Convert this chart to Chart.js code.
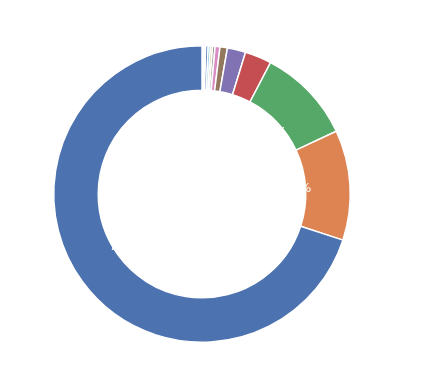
<!DOCTYPE html>
<html>
<head>
<meta charset="utf-8">
<script src="https://cdn.jsdelivr.net/npm/chart.js@4/dist/chart.umd.min.js"></script>
<style>
  html, body { margin: 0; padding: 0; background: #fff; }
  #wrap { width: 448px; height: 389px; }
</style>
</head>
<body>
<div id="wrap"><canvas id="pieChart" width="448" height="389"></canvas></div>
<script>
// slices in drawn order, clockwise from 12 o'clock
const categories = ["T8", "T7", "T6", "T5", "T4", "T3", "T2", "T1",
  "K", "J", "I", "H", "G", "F", "E", "D", "C", "B", "A"];
const shares = [0.05, 0.05, 0.05, 0.05, 0.05, 0.05, 0.05, 0.05,
  0.27, 0.24, 0.23, 0.27, 0.53, 0.81, 2.0, 2.9, 10.4, 12.0, 70.0];

const deep = ["#4C72B0", "#DD8452", "#55A868", "#C44E52", "#8172B3",
  "#937860", "#DA8BC3", "#8C8C8C", "#CCB974", "#64B5CD"];
// colour cycle runs counter-clockwise from the biggest slice
const sliceColors = shares.map((v, i) => deep[(shares.length - 1 - i) % deep.length]);

const pctLabels = {
  id: "pctLabels",
  afterDatasetsDraw(chart) {
    const ctx = chart.ctx;
    const meta = chart.getDatasetMeta(0);
    const total = shares.reduce((a, b) => a + b, 0);
    ctx.save();
    ctx.fillStyle = "#ffffff";
    ctx.font = "13px 'DejaVu Sans'";
    ctx.textAlign = "center";
    ctx.textBaseline = "middle";
    meta.data.forEach((arc, i) => {
      const mid = (arc.startAngle + arc.endAngle) / 2;
      const r = arc.outerRadius * 0.6;
      const x = arc.x + Math.cos(mid) * r;
      const y = arc.y + Math.sin(mid) * r;
      ctx.fillText((shares[i] / total * 100).toFixed(1) + "%", x, y);
    });
    ctx.restore();
  },
};

const ctx = document.getElementById("pieChart").getContext("2d");
const pieChart = new Chart(ctx, {
  type: "doughnut",
  data: {
    labels: categories,
    datasets: [
      {
        data: shares,
        backgroundColor: sliceColors,
        borderColor: "#ffffff",
        borderWidth: 1.5,
      },
    ],
  },
  options: {
    responsive: false,
    animation: false,
    cutout: "70%",
    layout: {
      padding: { left: 53, right: 97, top: 45, bottom: 46 },
    },
    plugins: {
      legend: { display: false },
      tooltip: { enabled: false },
    },
  },
  plugins: [pctLabels],
});
</script>
</body>
</html>
